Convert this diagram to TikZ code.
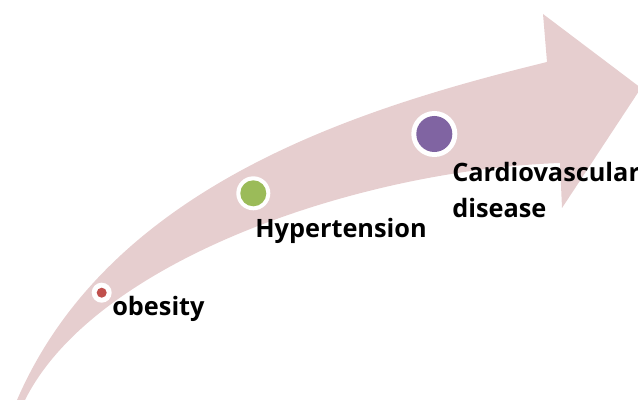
\documentclass[tikz,border=0pt]{standalone}
\usepackage{fontspec}
\setmainfont{Open Sans}
\usepackage{tikz}
\usetikzlibrary{positioning}
\definecolor{ArrowPink}{RGB}{230,206,207}
\definecolor{StageRed}{RGB}{192,80,77}
\definecolor{StageGreen}{RGB}{155,187,89}
\definecolor{StagePurple}{RGB}{128,100,162}
\tikzset{
  ring/.style={circle,fill=white,inner sep=0pt},
  core/.style={circle,inner sep=0pt},
  stagelabel/.style={anchor=base west,inner sep=0pt,align=left,
    font=\fontsize{18}{26}\selectfont\bfseries},
}

\begin{document}
\begin{tikzpicture}[x=0.025cm,y=-0.025cm]
  \useasboundingbox (0,0) rectangle (638,400);
  \clip (0,0) rectangle (638,400);
  % curved arrow
  \fill[ArrowPink] (17,400) .. controls (110,185) and (359,108) .. (547,62)
    -- (543,14) -- (641,88) -- (562,208) -- (560,163)
    .. controls (360,170) and (95,260) .. (25,400) -- cycle;
  % stages
  \node[ring,minimum size=0.5cm] (obesity) at (101.7,292.7) {};
  \node[core,fill=StageRed,minimum size=0.25cm] at (obesity) {};
  \node[ring,minimum size=0.85cm] (hyper) at (253.3,193.3) {};
  \node[core,fill=StageGreen,minimum size=0.65cm] at (hyper) {};
  \node[ring,minimum size=1.15cm] (cardio) at (434.3,134) {};
  \node[core,fill=StagePurple,minimum size=0.9cm] at (cardio) {};
  % labels
  \node[stagelabel] (obesityText) at (112,315) {obesity};
  \node[stagelabel] (hyperText) at (255,237) {Hypertension};
  \node[stagelabel] (cardioText) at (452,182) {Cardiovascular};
  \node[stagelabel] (diseaseText) at (452,218) {disease};
\end{tikzpicture}
\end{document}
